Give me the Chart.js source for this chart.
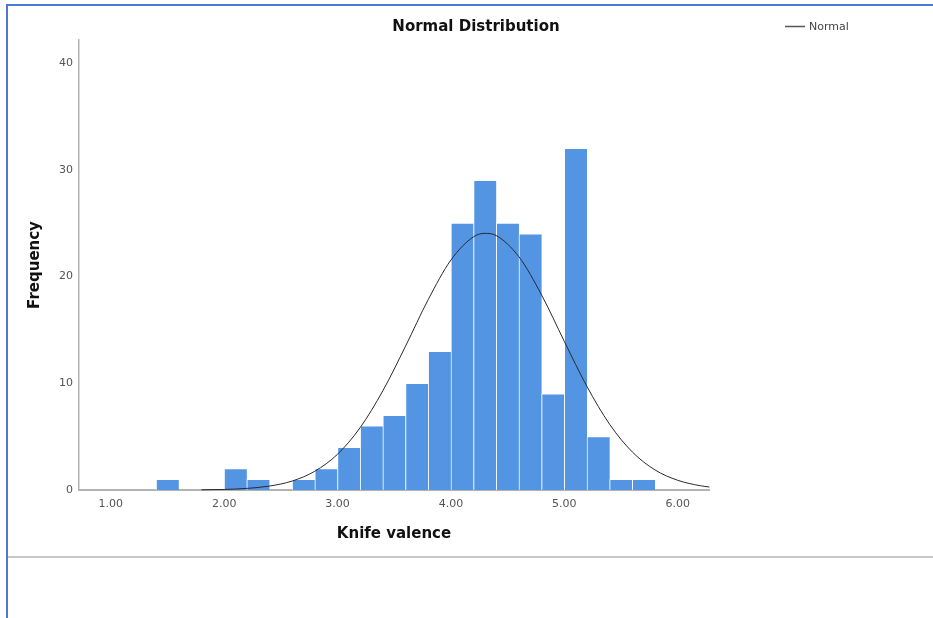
<!DOCTYPE html>
<html>
<head>
<meta charset="utf-8">
<title>Normal Distribution</title>
<script src="https://cdn.jsdelivr.net/npm/chart.js@4/dist/chart.umd.min.js"></script>
<style>
  html, body { margin: 0; padding: 0; background: #ffffff; }
  #wrap { position: relative; width: 933px; height: 618px; overflow: hidden; background: #ffffff; }
  #c { position: absolute; left: 0; top: 0; }
  .frame-top { position: absolute; left: 6px; top: 4px; right: 0; height: 2px; background: #4a7ad3; }
  .frame-left { position: absolute; left: 6px; top: 4px; bottom: 0; width: 2px; background: #4a7ad3; }
  .divider { position: absolute; left: 8px; right: 0; top: 556px; height: 2px; background: #c8c8c8; }
</style>
</head>
<body>
<div id="wrap">
  <canvas id="c" width="933" height="618"></canvas>
  <div class="frame-top"></div>
  <div class="frame-left"></div>
  <div class="divider"></div>
</div>
<script>
// Histogram bins of knife valence (lower edge of each 0.2-wide bin) and their counts
const binWidth = 0.2;
const binStarts = [1.4, 1.6, 1.8, 2.0, 2.2, 2.4, 2.6, 2.8, 3.0, 3.2, 3.4,
                   3.6, 3.8, 4.0, 4.2, 4.4, 4.6, 4.8, 5.0, 5.2, 5.4, 5.6];
const frequencies = [1, 0, 0, 2, 1, 0, 1, 2, 4, 6, 7,
                     10, 13, 25, 29, 25, 24, 9, 32, 5, 1, 1];

// Fitted normal curve, sampled along the valence axis
const curveX = [1.8, 2.0, 2.2, 2.4, 2.6, 2.8, 3.0, 3.2, 3.4, 3.6, 3.8, 4.0,
                4.2, 4.3, 4.4, 4.6, 4.8, 5.0, 5.2, 5.4, 5.6, 5.8, 6.0, 6.2, 6.28];
const curveY = [0.02, 0.05, 0.15, 0.37, 0.84, 1.76, 3.35, 5.85, 9.30, 13.48, 17.84, 21.54,
                23.72, 24.04, 23.83, 21.84, 18.26, 13.92, 9.69, 6.15, 3.56, 1.88, 0.91, 0.40, 0.28];

// Axis ticks
const xTicks = [1, 2, 3, 4, 5, 6];
const yTicks = [0, 10, 20, 30, 40];

const titleText = 'Normal Distribution';
const xTitle = 'Knife valence';
const yTitle = 'Frequency';
const curveLabel = 'Normal';

const FONT = "'DejaVu Sans', sans-serif";

const barData = binStarts.map((s, i) => ({ x: s + binWidth / 2, y: frequencies[i] }));
const lineData = curveX.map((x, i) => ({ x: x, y: curveY[i] }));

// Title and legend drawn in fixed places above the plot
const headerPlugin = {
  id: 'header',
  afterDraw(chart) {
    const ctx = chart.ctx;
    ctx.save();
    ctx.fillStyle = '#111111';
    ctx.font = 'bold 15px ' + FONT;
    ctx.textAlign = 'center';
    ctx.textBaseline = 'middle';
    ctx.fillText(titleText, 476, 27);

    const ds = chart.data.datasets[0];
    ctx.strokeStyle = '#555555';
    ctx.lineWidth = 1.5;
    ctx.beginPath();
    ctx.moveTo(785, 26.5);
    ctx.lineTo(805, 26.5);
    ctx.stroke();
    ctx.fillStyle = '#444444';
    ctx.font = '11px ' + FONT;
    ctx.textAlign = 'left';
    ctx.fillText(ds.label, 809, 27);
    ctx.restore();
  }
};

new Chart(document.getElementById('c'), {
  data: {
    datasets: [
      {
        type: 'line',
        label: curveLabel,
        data: lineData,
        borderColor: '#2a2a2a',
        borderWidth: 1,
        pointRadius: 0,
        cubicInterpolationMode: 'monotone',
        fill: false,
        clip: 6,
        order: 0
      },
      {
        type: 'bar',
        label: 'Frequency',
        data: barData,
        backgroundColor: '#5394e3',
        borderColor: 'rgba(255,255,255,0.8)',
        borderWidth: { top: 1, left: 1, right: 0, bottom: 0 },
        borderSkipped: false,
        barPercentage: 1,
        categoryPercentage: 1,
        order: 1
      }
    ]
  },
  options: {
    responsive: false,
    animation: false,
    devicePixelRatio: 1,
    layout: { padding: { left: 20, right: 224, top: 40, bottom: 75 } },
    plugins: {
      legend: { display: false },
      title: { display: false },
      tooltip: { enabled: false }
    },
    scales: {
      x: {
        type: 'linear',
        position: 'bottom',
        offset: false,
        min: 0.72,
        max: 6.276,
        afterFit(scale) { scale.height = 53; },
        afterBuildTicks(scale) { scale.ticks = xTicks.map(v => ({ value: v })); },
        grid: { display: false, drawTicks: false, offset: false },
        border: { display: true, color: '#b3b3b3', width: 2 },
        ticks: {
          padding: 8,
          color: '#555555',
          font: { family: FONT, size: 11 },
          maxRotation: 0,
          autoSkip: false,
          callback: v => Number(v).toFixed(2)
        },
        title: {
          display: true,
          text: xTitle,
          color: '#111111',
          font: { family: FONT, size: 15, weight: 'bold' },
          padding: { top: 0, bottom: 0 }
        }
      },
      y: {
        type: 'linear',
        position: 'left',
        min: 0,
        max: 42.15,
        afterFit(scale) { scale.width = 59; },
        afterBuildTicks(scale) { scale.ticks = yTicks.map(v => ({ value: v })); },
        grid: { display: false, drawTicks: false },
        border: { display: true, color: '#b3b3b3', width: 1.5 },
        ticks: {
          padding: 6,
          color: '#555555',
          font: { family: FONT, size: 11 },
          autoSkip: false
        },
        title: {
          display: true,
          text: yTitle,
          color: '#111111',
          font: { family: FONT, size: 15, weight: 'bold' },
          padding: { top: 6, bottom: 0 }
        }
      }
    }
  },
  plugins: [headerPlugin]
});
</script>
</body>
</html>
